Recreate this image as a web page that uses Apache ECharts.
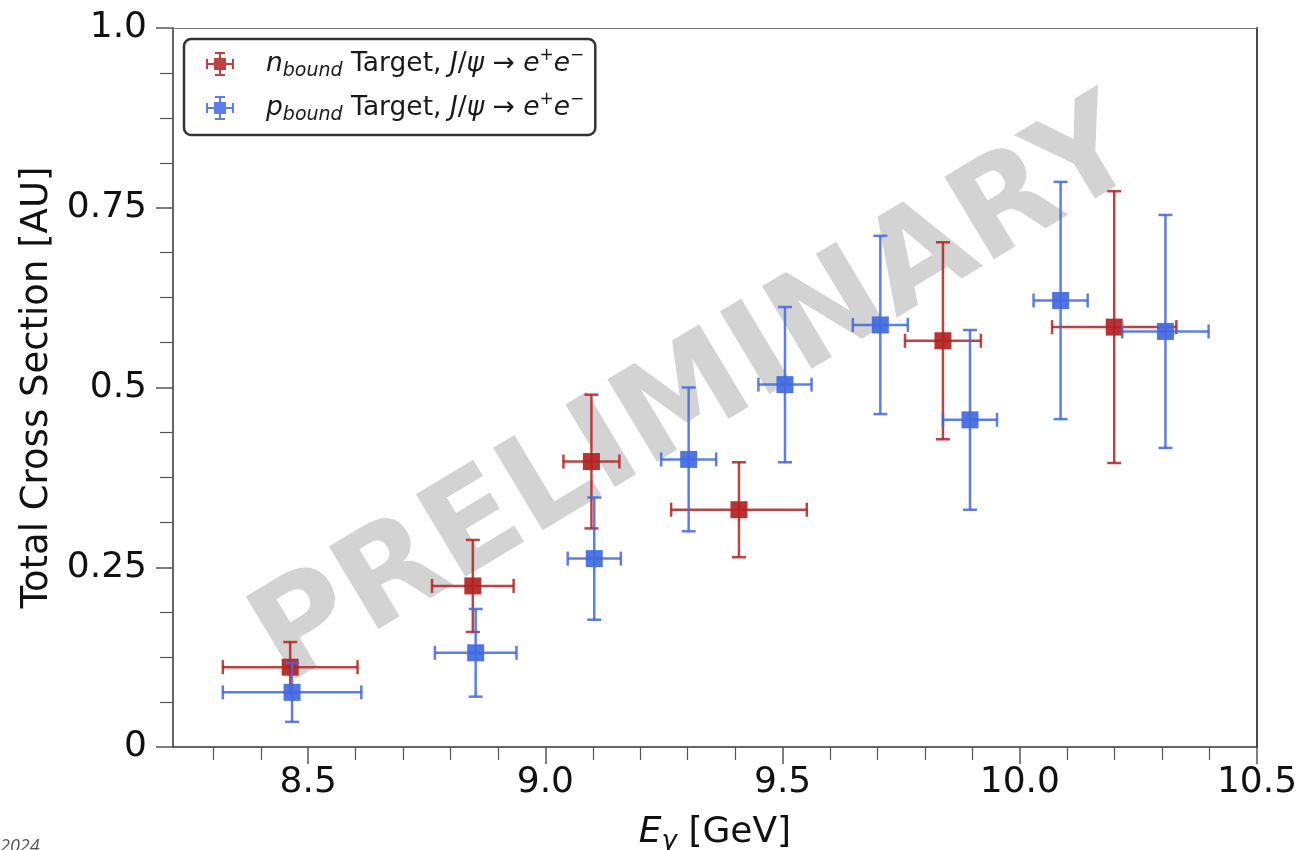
<!DOCTYPE html>
<html><head><meta charset="utf-8">
<script src="https://cdn.jsdelivr.net/npm/echarts@6/dist/echarts.min.js"></script>
<style>html,body{margin:0;padding:0;background:#fff}#c{width:1299px;height:850px}</style>
</head><body><div id="c"></div>
<script>
// n_bound target (red)
const nX    = [8.462, 8.847, 9.097, 9.408, 9.838, 10.199];
const nY    = [0.111, 0.224, 0.397, 0.330, 0.565, 0.584];
const nXerr = [0.142, 0.086, 0.059, 0.143, 0.080, 0.131];
const nYerr = [0.035, 0.064, 0.093, 0.066, 0.137, 0.189];
// p_bound target (blue)
const pX    = [8.466, 8.853, 9.103, 9.302, 9.505, 9.706, 9.895, 10.086, 10.307];
const pY    = [0.076, 0.131, 0.262, 0.400, 0.504, 0.587, 0.455, 0.621, 0.578];
const pXerr = [0.146, 0.086, 0.056, 0.058, 0.056, 0.058, 0.057, 0.057, 0.091];
const pYerr = [0.041, 0.061, 0.085, 0.100, 0.108, 0.124, 0.125, 0.165, 0.162];

const xMajorTicks = [8.5, 9.0, 9.5, 10.0, 10.5];
const xMajorLabels = ['8.5', '9.0', '9.5', '10.0', '10.5'];
const xMinorTicks = [8.3, 8.4, 8.6, 8.7, 8.8, 8.9, 9.1, 9.2, 9.3, 9.4, 9.6, 9.7, 9.8, 9.9, 10.1, 10.2, 10.3, 10.4];
const yTicks = [0, 0.25, 0.5, 0.75, 1.0];
const yTickLabels = ['0', '0.25', '0.5', '0.75', '1.0'];

const RED = '#b22222', BLUE = '#4169e1';
const FONT = 'DejaVu Sans';
const X_MIN = 8.215, X_MAX = 10.5;

const chart = echarts.init(document.getElementById('c'), null, {renderer: 'canvas'});

function errRender(color) {
  return function (params, api) {
    const x = api.value(0), y = api.value(1), dx = api.value(2), dy = api.value(3);
    const c = api.coord([x, y]);
    const l = api.coord([x - dx, y]), r = api.coord([x + dx, y]);
    const t = api.coord([x, y + dy]), b = api.coord([x, y - dy]);
    const cap = 7;
    const st = {stroke: color, lineWidth: 2.5, opacity: 0.85};
    return {type: 'group', children: [
      {type: 'line', shape: {x1: l[0], y1: c[1], x2: r[0], y2: c[1]}, style: st},
      {type: 'line', shape: {x1: c[0], y1: t[1], x2: c[0], y2: b[1]}, style: st},
      {type: 'line', shape: {x1: l[0], y1: c[1] - cap, x2: l[0], y2: c[1] + cap}, style: st},
      {type: 'line', shape: {x1: r[0], y1: c[1] - cap, x2: r[0], y2: c[1] + cap}, style: st},
      {type: 'line', shape: {x1: c[0] - cap, y1: t[1], x2: c[0] + cap, y2: t[1]}, style: st},
      {type: 'line', shape: {x1: c[0] - cap, y1: b[1], x2: c[0] + cap, y2: b[1]}, style: st}
    ]};
  };
}

const ICON = 'path://M0,11h28v2h-28z M13,0h2v24h-2z M0,7h2v10h-2z M26,7h2v10h-2z M9,0h10v2h-10z M9,22h10v2h-10z M8,6h12v12h-12z';

const LF = 26.5;
const legendRich = {
  g: {width: 27, fontSize: LF, lineHeight: 34},
  t: {fontFamily: FONT, fontSize: LF, lineHeight: 34, color: '#1a1a1a'},
  i: {fontFamily: FONT, fontStyle: 'italic', fontSize: LF, lineHeight: 34, color: '#1a1a1a'},
  sub: {fontFamily: FONT, fontStyle: 'italic', fontSize: 19, lineHeight: 19, verticalAlign: 'bottom', color: '#1a1a1a'},
  sup: {fontFamily: FONT, fontSize: 17, lineHeight: 17, verticalAlign: 'top', color: '#1a1a1a'}
};

const option = {
  animation: false,
  backgroundColor: '#fff',
  grid: {left: 173, right: 42, top: 28, bottom: 103, containLabel: false, outerBoundsMode: 'none'},
  xAxis: [
    {
      type: 'value', min: X_MIN, max: X_MAX, position: 'bottom',
      axisLine: {show: true, onZero: false, lineStyle: {color: '#333', width: 1.5}},
      axisTick: {show: true, inside: false, length: 17, customValues: xMajorTicks, lineStyle: {color: '#555', width: 1.5}},
      axisLabel: {show: true, customValues: xMajorTicks, margin: 18, fontFamily: FONT, fontSize: 36, color: '#111',
        formatter: v => { const k = xMajorTicks.findIndex(t => Math.abs(t - v) < 1e-6); return k >= 0 ? xMajorLabels[k] : ''; }},
      splitLine: {show: false},
      name: '{i|E}{sub|γ}{t| [GeV]}', nameLocation: 'middle', nameGap: 64,
      nameTextStyle: {fontFamily: FONT, fontSize: 36, color: '#111', rich: {
        i: {fontFamily: FONT, fontStyle: 'italic', fontSize: 36, lineHeight: 44, color: '#111'},
        t: {fontFamily: FONT, fontSize: 36, lineHeight: 44, color: '#111'},
        sub: {fontFamily: FONT, fontStyle: 'italic', fontSize: 26, lineHeight: 26, verticalAlign: 'bottom', color: '#111'}
      }}
    },
    {
      type: 'value', min: X_MIN, max: X_MAX, position: 'bottom', gridIndex: 0,
      axisLine: {show: false},
      axisTick: {show: true, inside: false, length: 13, customValues: xMinorTicks, lineStyle: {color: '#555', width: 1.2}},
      axisLabel: {show: false},
      splitLine: {show: false}
    },
    {
      type: 'value', min: X_MIN, max: X_MAX, position: 'top', gridIndex: 0,
      axisLine: {show: true, onZero: false, lineStyle: {color: '#777', width: 1.2}},
      axisTick: {show: false}, axisLabel: {show: false}, splitLine: {show: false}
    }
  ],
  yAxis: [
    {
      type: 'value', min: 0, max: 1, interval: 0.25, position: 'left',
      axisLine: {show: true, onZero: false, lineStyle: {color: '#333', width: 1.5}},
      axisTick: {show: true, inside: false, length: 17, lineStyle: {color: '#555', width: 1.5}},
      minorTick: {show: true, splitNumber: 4, length: 13, lineStyle: {color: '#555', width: 1.2}},
      axisLabel: {margin: 26, fontFamily: FONT, fontSize: 36, color: '#111',
        formatter: v => { const k = yTicks.findIndex(t => Math.abs(t - v) < 1e-6); return k >= 0 ? yTickLabels[k] : ''; }},
      splitLine: {show: false},
      name: 'Total Cross Section [AU]', nameLocation: 'middle', nameGap: 109, nameRotate: 90,
      nameTextStyle: {fontFamily: FONT, fontSize: 37, color: '#111'}
    },
    {
      type: 'value', min: 0, max: 1, position: 'right',
      axisLine: {show: true, onZero: false, lineStyle: {color: '#333', width: 1.8}},
      axisTick: {show: false}, axisLabel: {show: false}, splitLine: {show: false}
    }
  ],
  legend: {
    left: 184, top: 39, orient: 'vertical',
    padding: [8, 11, 10, 22], itemGap: 10, itemWidth: 28, itemHeight: 24,
    borderColor: '#333', borderWidth: 2.5, borderRadius: 7, backgroundColor: '#fff',
    itemStyle: {opacity: 0.85},
    data: [{name: 'nbound', icon: ICON}, {name: 'pbound', icon: ICON}],
    formatter: name => {
      const s = name === 'nbound' ? 'n' : 'p';
      return '{g| }{i|' + s + '}{sub|bound}{t| Target, }{i|J}{t|/}{i|ψ}{t| → }{i|e}{sup|+}{i|e}{sup|−}';
    },
    textStyle: {fontFamily: FONT, fontSize: LF, color: '#1a1a1a', rich: legendRich}
  },
  graphic: [
    {
      type: 'text', z: 1, x: 698, y: 397, rotation: 31 * Math.PI / 180,
      style: {text: 'PRELIMINARY', fontFamily: FONT, fontWeight: 'bold', fontSize: 132,
        fill: '#d3d3d3', align: 'center', verticalAlign: 'middle'}
    },
    {
      type: 'text', z: 1, left: 0, top: 838,
      style: {text: '2024', fontFamily: 'Open Sans', fontStyle: 'italic', fontSize: 18, fill: '#555'}
    }
  ],
  series: [
    {
      name: 'nbound', type: 'custom', renderItem: errRender(RED), z: 2,
      data: nX.map((x, i) => [x, nY[i], nXerr[i], nYerr[i]]),
      encode: {x: 0, y: 1}, itemStyle: {color: RED}, silent: true
    },
    {
      name: 'nbound', type: 'scatter', symbol: 'rect', symbolSize: 17, z: 3,
      data: nX.map((x, i) => [x, nY[i]]),
      itemStyle: {color: RED, opacity: 0.92}
    },
    {
      name: 'pbound', type: 'custom', renderItem: errRender(BLUE), z: 4,
      data: pX.map((x, i) => [x, pY[i], pXerr[i], pYerr[i]]),
      encode: {x: 0, y: 1}, itemStyle: {color: BLUE}, silent: true
    },
    {
      name: 'pbound', type: 'scatter', symbol: 'rect', symbolSize: 17, z: 5,
      data: pX.map((x, i) => [x, pY[i]]),
      itemStyle: {color: BLUE, opacity: 0.92}
    }
  ]
};
chart.setOption(option);
</script>
</body></html>
